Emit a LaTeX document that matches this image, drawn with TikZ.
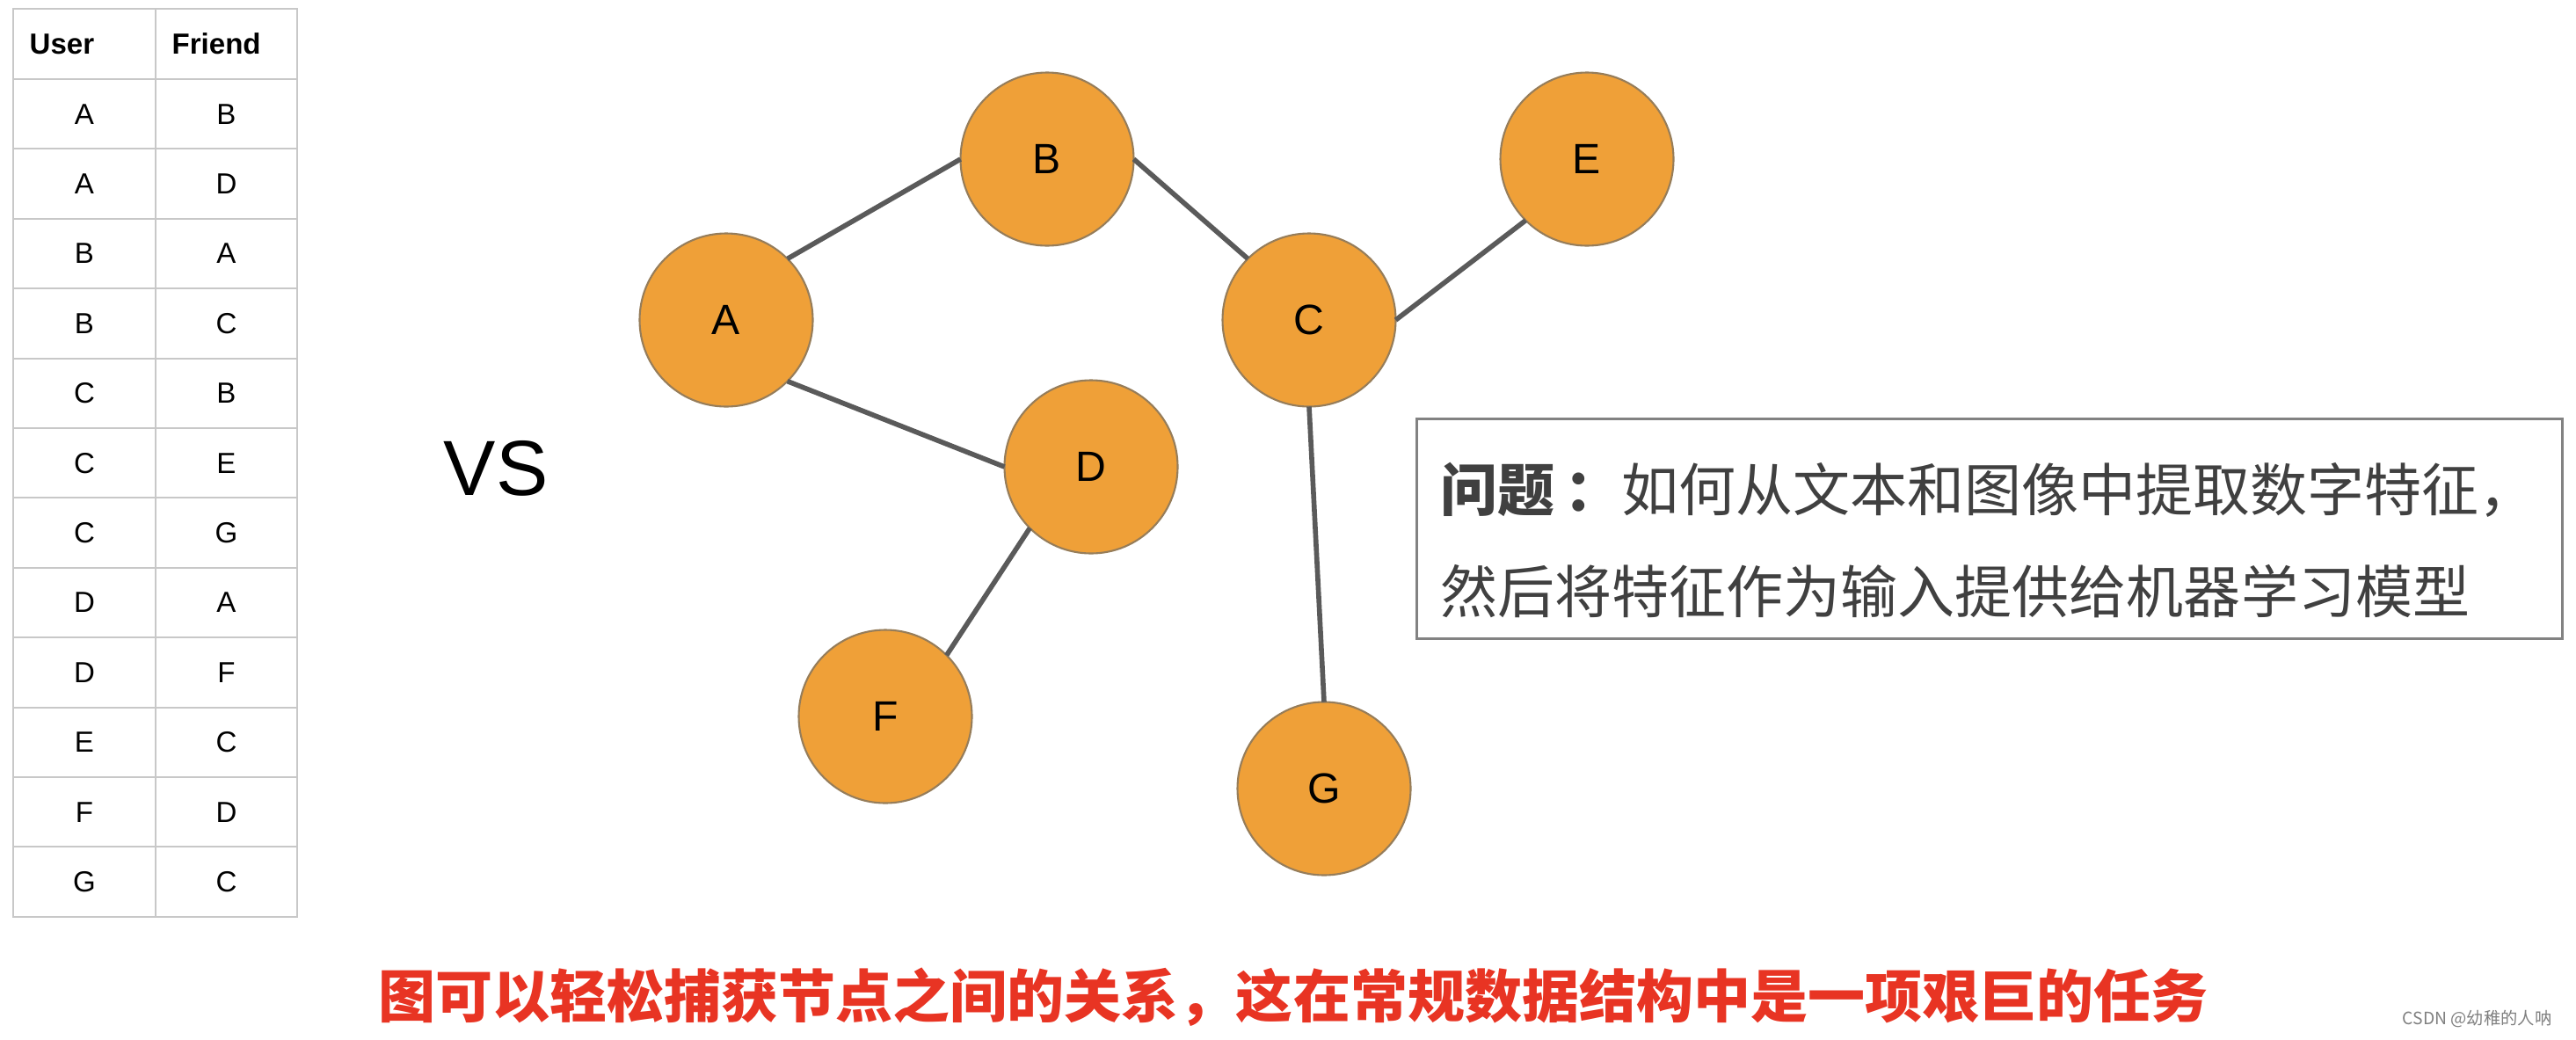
\documentclass[tikz,border=0pt]{standalone}
\usepackage{fontspec}
\setmainfont{Liberation Sans}
\newfontfamily\cjk{Noto Sans CJK SC}
\usepackage{tkz-graph}
\definecolor{nodeorange}{RGB}{239,160,56}
\definecolor{nodeline}{RGB}{150,125,90}
\definecolor{edgegray}{RGB}{90,90,90}
\definecolor{gridgray}{RGB}{200,200,200}
\definecolor{boxgray}{RGB}{130,130,130}
\definecolor{textgray}{RGB}{64,64,64}
\definecolor{titlered}{RGB}{232,52,35}
\tikzset{
  VertexStyle/.style = { circle, fill = nodeorange, draw = nodeline,
                         line width = 0.6pt, minimum size = 1.97cm,
                         inner sep = 0pt, font = \fontsize{13.7}{16}\selectfont },
  EdgeStyle/.style = { draw = edgegray, line width = 1.6pt },
  CellStyle/.style = { inner sep = 0pt, font = \fontsize{9.4}{11}\selectfont },
  NoteStyle/.style = { anchor = west, inner sep = 0pt, text = textgray,
                       font = \cjk\fontsize{18.5}{22}\selectfont } }

\begin{document}
\begin{tikzpicture}
  \useasboundingbox (0,0) rectangle (29.30,11.82);
  \fill[white] (0,0) rectangle (29.30,11.82);

  % friend table
  \draw[gridgray, line width = 0.6pt] (0.15,1.39) rectangle (3.38,11.72);
  \draw[gridgray, line width = 0.6pt] (1.77,1.39) -- (1.77,11.72);
  \foreach \k in {0,...,11}
    \draw[gridgray, line width = 0.6pt] (0.15,{10.92-\k*0.794}) -- (3.38,{10.92-\k*0.794});
  \node[CellStyle, anchor = west] (hUser) at (0.33,11.32) {\textbf{User}};
  \node[CellStyle, anchor = west] (hFriend) at (1.95,11.32) {\textbf{Friend}};
  \foreach \u/\f [count=\i] in {A/B,A/D,B/A,B/C,C/B,C/E,C/G,D/A,D/F,E/C,F/D,G/C}{
    \node[CellStyle] (user\i) at (0.96,{10.92-\i*0.794+0.397}) {\u};
    \node[CellStyle] (friend\i) at (2.575,{10.92-\i*0.794+0.397}) {\f};
  }

  \node[font = \fontsize{25.3}{30}\selectfont] (vs) at (5.64,6.49) {VS};

  % graph
  \Vertex[x=8.26,y=8.18]{A}
  \Vertex[x=11.91,y=10.01]{B}
  \Vertex[x=14.89,y=8.18]{C}
  \Vertex[x=12.41,y=6.51]{D}
  \Vertex[x=18.05,y=10.01]{E}
  \Vertex[x=10.07,y=3.67]{F}
  \Vertex[x=15.06,y=2.85]{G}
  \Edge(A.north east)(B.west)
  \Edge(B.east)(C.north west)
  \Edge(C.east)(E.south west)
  \Edge(A.south east)(D.west)
  \Edge(D.south west)(F.north east)
  \Edge(C.south)(G.north)

  % question box
  \node[draw = boxgray, line width = 0.8pt, minimum width = 13.03cm,
        minimum height = 2.50cm, anchor = north west] (qbox) at (16.10,7.07) {};
  \node[NoteStyle] (qline1) at (16.38,6.25) {\textbf{问题\,：}如何从文本和图像中提取数字特征，};
  \node[NoteStyle] (qline2) at (16.38,5.09) {然后将特征作为输入提供给机器学习模型};

  \node[text = titlered, font = \cjk\bfseries\fontsize{18.5}{22}\selectfont] (caption)
    at (14.71,0.48) {图可以轻松捕获节点之间的关系，这在常规数据结构中是一项艰巨的任务};
  \node[anchor = east, text = gray, font = \cjk\fontsize{5.5}{7}\selectfont] (mark)
    at (29.15,0.23) {CSDN @幼稚的人呐};
\end{tikzpicture}
\end{document}
